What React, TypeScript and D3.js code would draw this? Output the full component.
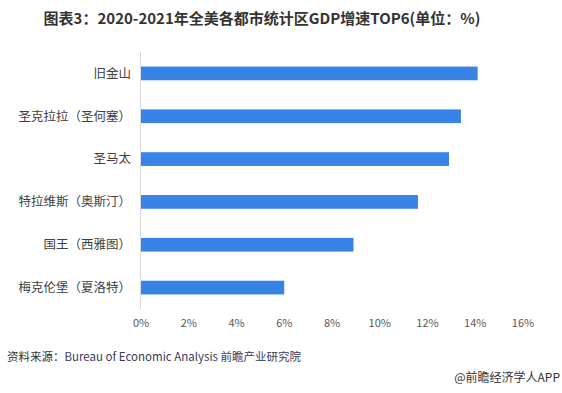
import React, { useEffect, useRef } from "react";
import * as d3 from "d3";

const categories = [
  "旧金山",
  "圣克拉拉（圣何塞）",
  "圣马太",
  "特拉维斯（奥斯汀）",
  "国王（西雅图）",
  "梅克伦堡（夏洛特）",
];
const growth = [14.1, 13.4, 12.9, 11.6, 8.9, 6.0];
const xTicks = [0, 2, 4, 6, 8, 10, 12, 14, 16];

const title = "图表3：2020-2021年全美各都市统计区GDP增速TOP6(单位：%)";
const sourceLabel = "资料来源：";
const sourceText = "Bureau of Economic Analysis 前瞻产业研究院";
const brand = "@前瞻经济学人APP";

const App = () => {
  const ref = useRef<SVGSVGElement>(null);

  useEffect(() => {
    document.body.style.margin = "0";
    const width = 562;
    const height = 393;
    const margin = { top: 52, right: 39, bottom: 86, left: 141 };
    const font = "'Microsoft YaHei', 'Noto Sans CJK SC', sans-serif";

    const svg = d3.select(ref.current);
    svg.selectAll("*").remove();
    svg.attr("width", width).attr("height", height);

    svg
      .append("rect")
      .attr("width", width)
      .attr("height", height)
      .attr("fill", "#fff");

    const x_scale = d3
      .scaleLinear()
      .domain([0, 16])
      .range([margin.left, width - margin.right]);

    const y_scale = d3
      .scaleBand()
      .domain(categories)
      .range([margin.top, height - margin.bottom + 2])
      .paddingInner(0.68)
      .paddingOuter(0.34);

    // title
    svg
      .append("text")
      .attr("x", 262)
      .attr("y", 24)
      .attr("text-anchor", "middle")
      .attr("font-family", font)
      .attr("font-size", 15)
      .attr("font-weight", "bold")
      .attr("fill", "#333")
      .text(title);

    // bars
    svg
      .selectAll(".bar")
      .data(categories)
      .enter()
      .append("rect")
      .attr("class", "bar")
      .attr("x", x_scale(0))
      .attr("y", (d) => y_scale(d)!)
      .attr("width", (d, i) => x_scale(growth[i]) - x_scale(0))
      .attr("height", y_scale.bandwidth())
      .attr("fill", "#3783e6");

    // axis line
    svg
      .append("line")
      .attr("x1", x_scale(0) - 0.5)
      .attr("x2", x_scale(0) - 0.5)
      .attr("y1", margin.top)
      .attr("y2", height - margin.bottom + 2)
      .attr("stroke", "#d9d9d9")
      .attr("stroke-width", 1);

    // category labels
    svg
      .selectAll(".cat")
      .data(categories)
      .enter()
      .append("text")
      .attr("class", "cat")
      .attr("x", x_scale(0) - 10)
      .attr("y", (d) => y_scale(d)! + y_scale.bandwidth() / 2)
      .attr("dy", "0.35em")
      .attr("text-anchor", "end")
      .attr("font-family", font)
      .attr("font-size", 12.5)
      .attr("fill", "#404040")
      .text((d) => d);

    // x tick labels
    svg
      .selectAll(".tick")
      .data(xTicks)
      .enter()
      .append("text")
      .attr("class", "tick")
      .attr("x", (d) => x_scale(d))
      .attr("y", 323)
      .attr("dy", "0.35em")
      .attr("text-anchor", "middle")
      .attr("font-family", font)
      .attr("font-size", 11)
      .attr("fill", "#595959")
      .text((d) => `${d}%`);

    // source
    const src = svg
      .append("text")
      .attr("x", 7)
      .attr("y", 361)
      .attr("font-family", font)
      .attr("font-size", 11.5);
    src.append("tspan").attr("fill", "#333").text(sourceLabel);
    src.append("tspan").attr("fill", "#3a3a5a").text(sourceText);

    svg
      .append("text")
      .attr("x", 560)
      .attr("y", 382)
      .attr("text-anchor", "end")
      .attr("font-family", font)
      .attr("font-size", 12)
      .attr("fill", "#333")
      .text(brand);
  }, []);

  return <svg ref={ref} style={{ display: "block" }}></svg>;
};

export default App;
